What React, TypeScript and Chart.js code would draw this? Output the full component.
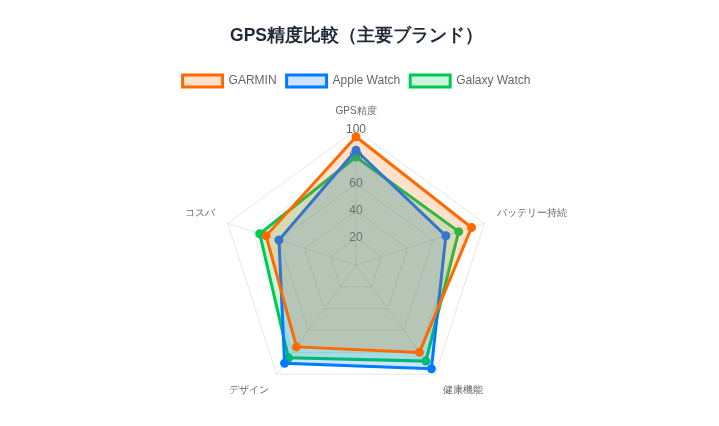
import React, { useEffect, useRef } from 'react';
import { Chart, registerables } from 'chart.js';

Chart.register(...registerables);

const categories = ['GPS精度', 'バッテリー持続', '健康機能', 'デザイン', 'コスバ'];
const garminScores = [95, 90, 80, 75, 70];
const appleScores = [85, 70, 95, 90, 60];
const galaxyScores = [80, 80, 88, 85, 75];
const tickValues = [20, 40, 60, 80, 100];

const App: React.FC = () => {
  const chartRef = useRef<HTMLCanvasElement | null>(null);
  const chartInstance = useRef<Chart | null>(null);

  useEffect(() => {
    const canvas = chartRef.current;
    if (!canvas) return;
    const ctx = canvas.getContext('2d');
    if (!ctx) return;

    if (chartInstance.current) {
      chartInstance.current.destroy();
    }

    chartInstance.current = new Chart(ctx, {
      type: 'radar',
      data: {
        labels: categories,
        datasets: [
          {
            label: 'GARMIN',
            data: garminScores,
            borderColor: '#ff6a00',
            backgroundColor: 'rgba(255, 106, 0, 0.2)',
            pointBackgroundColor: '#ff6a00',
            pointBorderColor: '#ff6a00',
            borderWidth: 3,
            pointRadius: 3,
          },
          {
            label: 'Apple Watch',
            data: appleScores,
            borderColor: '#007aff',
            backgroundColor: 'rgba(0, 122, 255, 0.2)',
            pointBackgroundColor: '#007aff',
            pointBorderColor: '#007aff',
            borderWidth: 3,
            pointRadius: 3,
          },
          {
            label: 'Galaxy Watch',
            data: galaxyScores,
            borderColor: '#00c853',
            backgroundColor: 'rgba(0, 200, 83, 0.2)',
            pointBackgroundColor: '#00c853',
            pointBorderColor: '#00c853',
            borderWidth: 3,
            pointRadius: 3,
          },
        ],
      },
      options: {
        animation: false,
        responsive: true,
        maintainAspectRatio: false,
        plugins: {
          title: {
            display: true,
            text: 'GPS精度比較（主要ブランド）',
            color: '#1f2937',
            font: { size: 17.5, weight: 'bold' },
            padding: { top: 18, bottom: 18 },
          },
          legend: {
            labels: { color: '#666', font: { size: 12 } },
          },
        },
        scales: {
          r: {
            min: 0,
            max: 100,
            afterBuildTicks: (scale) => {
              scale.ticks = [0, ...tickValues].map((v) => ({ value: v }));
            },
            ticks: {
              color: '#666',
              font: { size: 12 },
              showLabelBackdrop: false,
            },
            pointLabels: {
              color: '#666',
              font: { size: 10 },
            },
          },
        },
      },
    });

    return () => {
      if (chartInstance.current) {
        chartInstance.current.destroy();
        chartInstance.current = null;
      }
    };
  }, []);

  return (
    <div style={{ position: 'relative', width: '697px', height: '410px' }}>
      <canvas ref={chartRef} />
    </div>
  );
};

export default App;
